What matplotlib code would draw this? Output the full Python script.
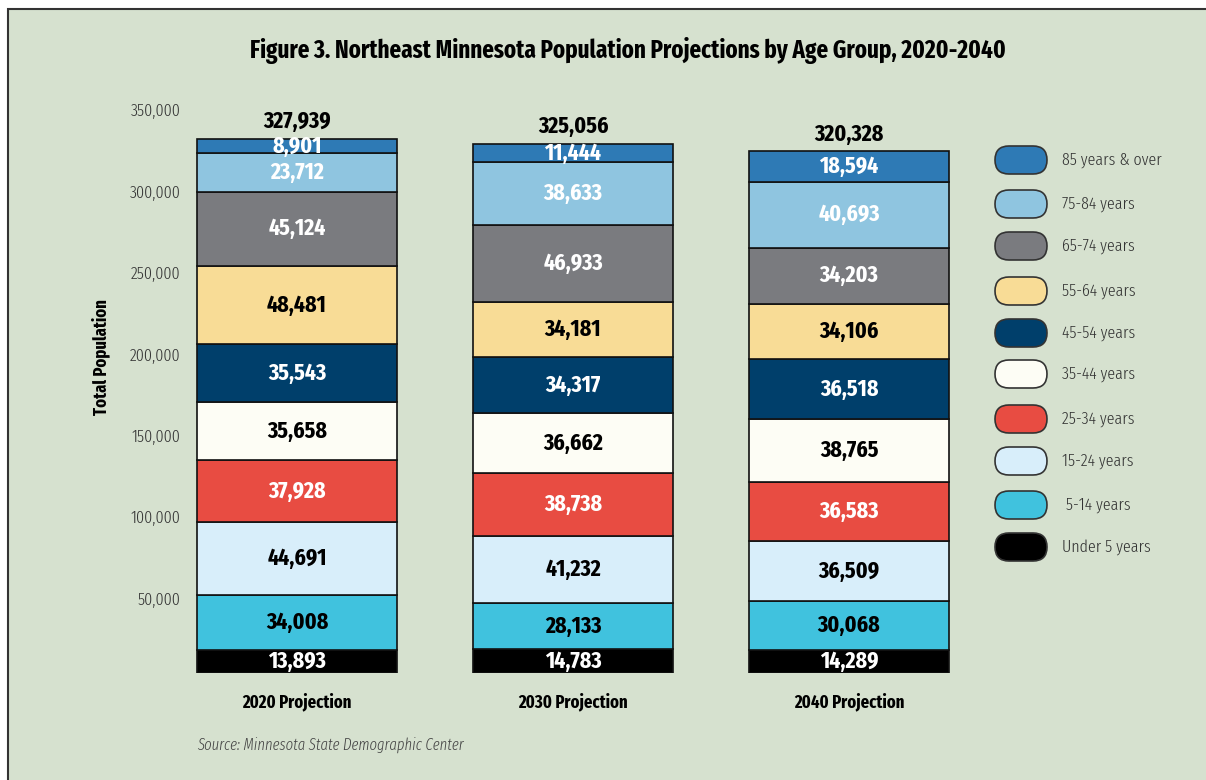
import matplotlib
matplotlib.use("Agg")
import matplotlib.pyplot as plt
import matplotlib.transforms as mtransforms
from matplotlib.patches import Rectangle, FancyBboxPatch
import numpy as np

plt.rcParams['font.family'] = ['Fira Sans Extra Condensed', 'DejaVu Sans']

# Dados
anos = ['2020 Projection', '2030 Projection', '2040 Projection']
grupos = ['Under 5 years', ' 5-14 years', '15-24 years', '25-34 years', '35-44 years',
          '45-54 years', '55-64 years', '65-74 years', '75-84 years', '85 years & over']
valores = {
    'Under 5 years':   [13893, 14783, 14289],
    ' 5-14 years':     [34008, 28133, 30068],
    '15-24 years':     [44691, 41232, 36509],
    '25-34 years':     [37928, 38738, 36583],
    '35-44 years':     [35658, 36662, 38765],
    '45-54 years':     [35543, 34317, 36518],
    '55-64 years':     [48481, 34181, 34106],
    '65-74 years':     [45124, 46933, 34203],
    '75-84 years':     [23712, 38633, 40693],
    '85 years & over': [8901, 11444, 18594],
}
totais = [327939, 325056, 320328]
yticks = [50000, 100000, 150000, 200000, 250000, 300000, 350000]

cores = ['#000000', '#40c2de', '#d8eefa', '#e84c42', '#fdfdf5',
         '#003f6b', '#f8dc96', '#7a7b7f', '#8fc5e0', '#2e7ab5']
cor_texto = ['white', 'black', 'black', 'white', 'black',
             'white', 'black', 'white', 'white', 'white']

fundo = '#d6e1cf'
W, H = 1206, 780
fig = plt.figure(figsize=(W / 100, H / 100), dpi=100)
fig.patch.set_facecolor('white')

# eixo de fundo em pixels (moldura e legenda)
bg = fig.add_axes([0, 0, 1, 1], zorder=-1)
bg.set_xlim(0, W)
bg.set_ylim(H, 0)
bg.axis('off')
bg.add_patch(Rectangle((8, 9), W, H, facecolor=fundo, edgecolor='#333333', linewidth=1.5))

ys_leg = [547, 505, 461, 419, 374, 333, 291, 246, 204, 160]
for g, c, yl in zip(grupos, cores, ys_leg):
    bg.add_patch(FancyBboxPatch((995, yl - 14), 52, 28,
                                boxstyle='round,pad=0,rounding_size=14',
                                facecolor=c, edgecolor='#333333', linewidth=1.2))
    bg.text(1062, yl, g, ha='left', va='center', fontsize=12.5, color='#333333', fontweight=300)

# eixo principal: x em unidades de categoria, 276 px por categoria
px = 276.0
ax_l, ax_r = 182, 960
ax = fig.add_axes([ax_l / W, (H - 673) / H, (ax_r - ax_l) / W, 570 / H])
ax.patch.set_alpha(0)
ax.set_xlim(-(297 - ax_l) / px, (ax_r - 297) / px)
ax.set_ylim(0, 350000)
for s in ax.spines.values():
    s.set_visible(False)

x = np.arange(len(anos))
base = np.zeros(len(anos))
for g, c, tc in zip(grupos, cores, cor_texto):
    v = np.array(valores[g])
    ax.bar(x, v, bottom=base, width=200 / px, color=c, edgecolor='#111111', linewidth=1.2)
    for xi, b, vi in zip(x, base, v):
        ax.text(xi, b + vi / 2, f'{vi:,}', ha='center', va='center', color=tc,
                fontsize=17, fontweight='bold')
    base += v

for xi, t in zip(x, totais):
    ax.text(xi, t + 3500, f'{t:,}', ha='center', va='bottom', color='black',
            fontsize=17, fontweight='bold')

ax.set_yticks(yticks)
ax.set_yticklabels([f'{t:,}' for t in yticks], fontsize=12.5, color='#333333', fontweight=300)
ax.tick_params(axis='y', length=0, pad=1)
off = mtransforms.ScaledTranslation(0, -7 / 100, fig.dpi_scale_trans)
for lb in ax.get_yticklabels():
    lb.set_transform(lb.get_transform() + off)

ax.set_xticks(x)
ax.set_xticklabels(anos, fontsize=13, fontweight='bold', color='black')
ax.tick_params(axis='x', length=0, pad=14)

fig.text(628 / W, 1 - 50 / H, 'Figure 3. Northeast Minnesota Population Projections by Age Group, 2020-2040',
         ha='center', va='center', fontsize=18, fontweight='bold', color='black')
fig.text(101 / W, 1 - 357 / H, 'Total Population', rotation=90, ha='center', va='center',
         fontsize=13, fontweight='bold', color='black')
fig.text(197 / W, 1 - 745 / H, 'Source: Minnesota State Demographic Center', ha='left', va='center',
         fontsize=11.5, style='italic', color='#444444', fontweight=300)

fig.savefig('out.png', dpi=100, facecolor=fig.get_facecolor())
